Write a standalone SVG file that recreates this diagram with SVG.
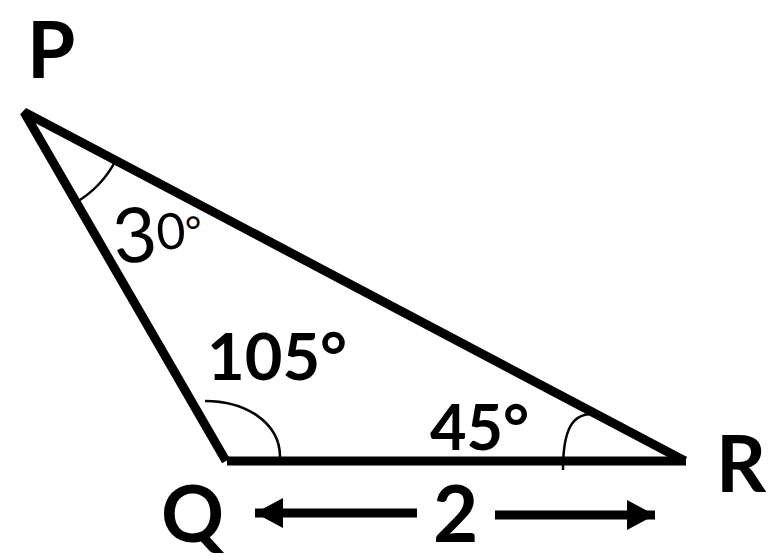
<svg xmlns="http://www.w3.org/2000/svg" width="774" height="560" viewBox="0 0 774 560">
<style>
.edge{stroke:#000;stroke-width:9;fill:none;stroke-linecap:butt}
.arc{stroke:#000;stroke-width:2.5;fill:none}
.lbl{font-family:Lato,"Liberation Sans",sans-serif;font-weight:700;fill:#000}
.ang{font-family:Lato,"Liberation Sans",sans-serif;font-weight:700;fill:#000}
.hand{font-family:Lato,"Liberation Sans",sans-serif;font-weight:400;fill:#000}
.dim{stroke:#000;stroke-width:9;fill:none}
</style>
<defs>
<marker id="ah" markerUnits="userSpaceOnUse" markerWidth="30" markerHeight="32" refX="28" refY="16" orient="auto">
<path d="M0,1 L28,16 L0,31 Z" fill="#000"/>
</marker>
</defs>
<rect width="774" height="560" fill="#fff"/>
<g id="triangle">
<path class="edge" d="M226,461 L24,112 L685,461" stroke-linejoin="miter" stroke-miterlimit="3"/>
<path class="edge" d="M227,461 L686,461"/>
</g>
<g id="vertex-P"><text class="lbl" x="27" y="78" font-size="78">P</text></g>
<g id="vertex-Q"><text class="lbl" x="161" y="542" font-size="78">Q</text></g>
<g id="vertex-R"><text class="lbl" x="716" y="492" font-size="78">R</text></g>
<g id="angle-P">
<path class="arc" d="M75,203 A107,107 0 0 0 116,160"/>
<text class="hand" transform="translate(115,264) rotate(-5)"><tspan font-size="76">3</tspan><tspan font-size="50" dy="-10">0</tspan><tspan font-size="40" dy="-2">°</tspan></text>
</g>
<g id="angle-Q">
<path class="arc" d="M205,401 C245,401 280,422 280,457"/>
<text class="ang" x="207" y="380" font-size="65">105°</text>
</g>
<g id="angle-R">
<path class="arc" d="M592,414 C572,414 563,430 563,470"/>
<text class="ang" x="430" y="450" font-size="63">45°</text>
</g>
<g id="connectors">
<line class="dim" x1="417" y1="513" x2="255" y2="513" marker-end="url(#ah)"/>
<line class="dim" x1="495" y1="515" x2="655" y2="515" marker-end="url(#ah)"/>
</g>
<g id="length-label"><text class="lbl" x="433" y="542" font-size="78">2</text></g>
</svg>
